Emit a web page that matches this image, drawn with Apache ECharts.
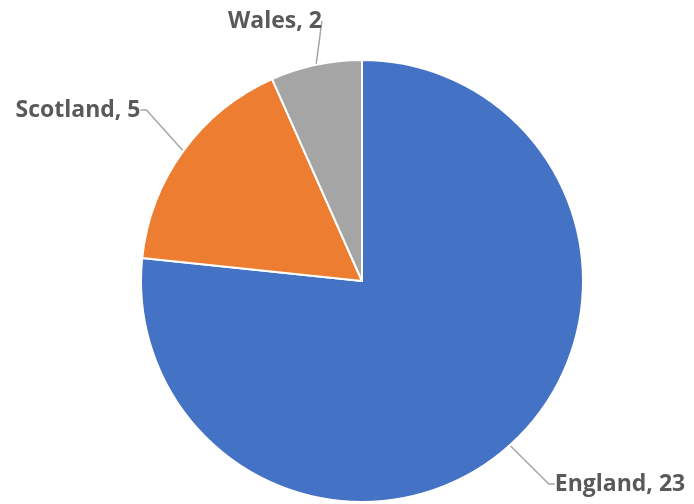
<!DOCTYPE html>
<html>
<head>
<meta charset="utf-8">
<script src="https://cdn.jsdelivr.net/npm/echarts@6/dist/echarts.min.js"></script>
<style>
  html, body { margin: 0; padding: 0; background: #fff; }
  #chart { width: 694px; height: 504px; }
</style>
</head>
<body>
<div id="chart"></div>
<script>
// pie data
const countries = ['England', 'Scotland', 'Wales'];
const counts = [23, 5, 2];
const colors = ['#4472C4', '#ED7D31', '#A5A5A5'];

// where each label sits (centre of text)
const labelSpots = [[620, 484], [78, 110], [275, 21]];

const myChart = echarts.init(document.getElementById('chart'));
myChart.setOption({
  animation: false,
  series: [
    {
      type: 'pie',
      center: [362, 281],
      radius: [0, 221],
      startAngle: 90,
      clockwise: true,
      data: countries.map((c, i) => ({
        name: c,
        value: counts[i],
        itemStyle: { color: colors[i] }
      })),
      itemStyle: {
        borderColor: '#fff',
        borderWidth: 2
      },
      label: {
        show: true,
        position: 'outside',
        formatter: '{b}, {c}',
        color: '#595959',
        fontFamily: 'Open Sans',
        fontWeight: 'bold',
        fontSize: 23
      },
      labelLine: {
        show: true,
        length: 12,
        length2: 6,
        lineStyle: { color: '#A6A6A6', width: 1.5 }
      },
      labelLayout: function (p) {
        const s = labelSpots[p.dataIndex];
        return { x: s[0], y: s[1], align: 'center', verticalAlign: 'middle' };
      },
      emphasis: { disabled: true }
    }
  ]
});
window.onresize = myChart.resize;
</script>
</body>
</html>
